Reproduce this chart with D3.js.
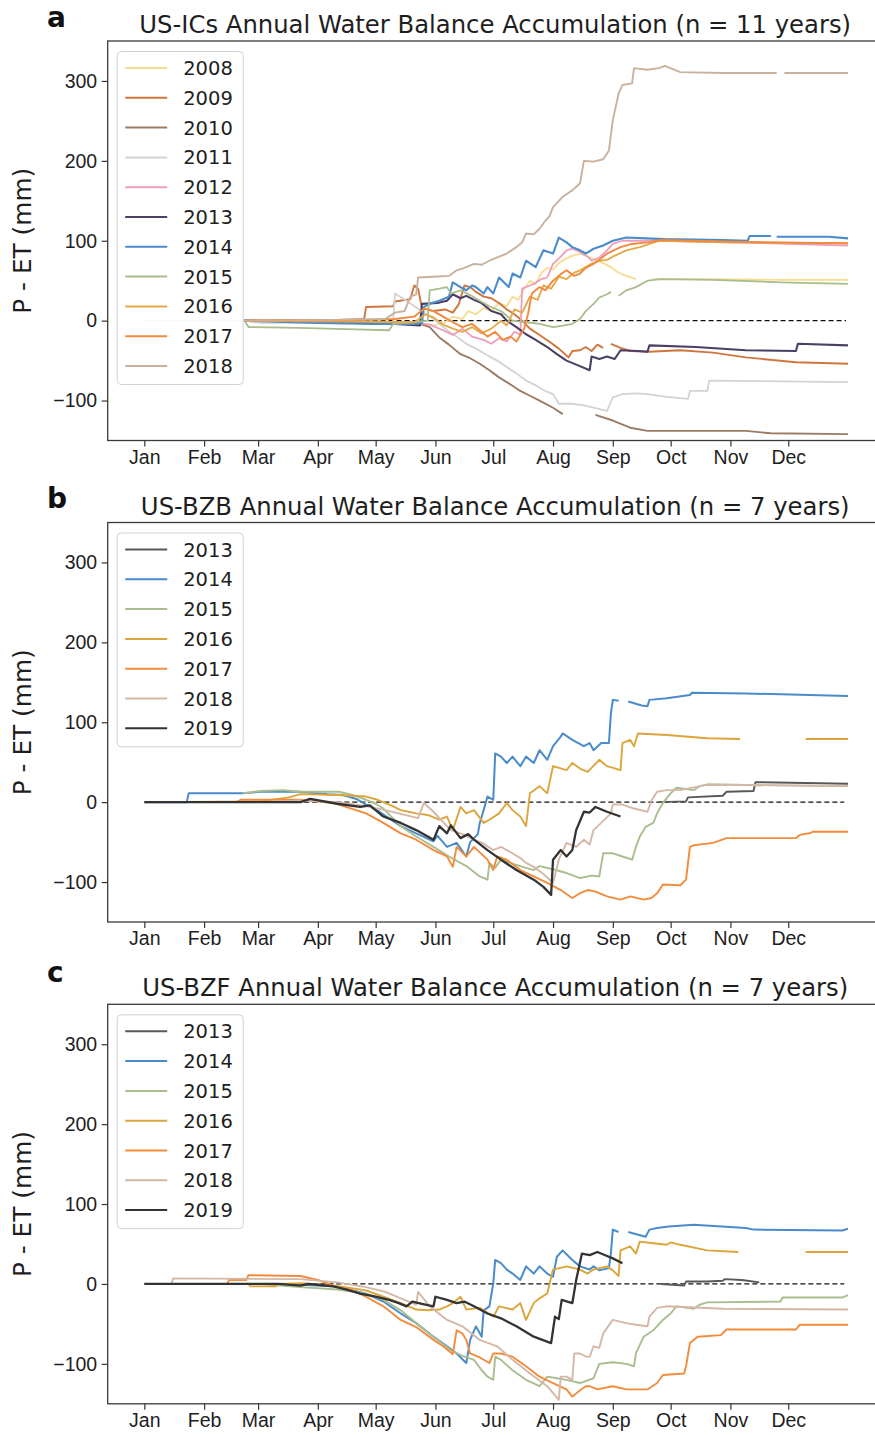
<!DOCTYPE html>
<html>
<head>
<meta charset="utf-8">
<script src="https://cdn.jsdelivr.net/npm/d3@7"></script>
<style>
  html, body { margin: 0; padding: 0; background: #fff; }
  svg { display: block; font-family: "DejaVu Sans", "Liberation Sans", sans-serif; }
</style>
</head>
<body>
<svg id="fig" width="875" height="1435"></svg>
<script>
// ---- axis ticks -------------------------------------------------------
const monthStarts = [0, 31, 59, 90, 120, 151, 181, 212, 243, 273, 304, 334];
const monthLabels = ["Jan","Feb","Mar","Apr","May","Jun","Jul","Aug","Sep","Oct","Nov","Dec"];
const yTicks = [-100, 0, 100, 200, 300];

// ---- US-ICs: cumulative P - ET (mm) by day of year; null = missing -----
const icsYears = ["2008","2009","2010","2011","2012","2013","2014","2015","2016","2017","2018"];
const ics2008 = [[52,0],[90,-1],[120,-2],[140,-3],[150,-6],[156,-2],[160,5],[165,2],[168,12],[172,8],[176,16],[180,12],[184,22],[188,18],[191,30],[194,26],[197,40],[200,50],[203,46],[206,60],[209,66],[212,64],[215,72],[219,78],[223,82],[226,84],[230,80],[234,76],[238,72],[242,67],[246,60],[250,56],[255,52],[256,null],[264,52],[290,52],[330,51],[365,51]];
const ics2009 = [[52,0],[70,1],[100,1],[114,2],[115,17],[129,18],[130,24],[138,27],[140,44],[142,40],[144,16],[150,12],[156,14],[160,10],[163,20],[166,44],[169,42],[172,36],[176,30],[180,28],[184,22],[188,14],[192,8],[196,0],[200,-10],[205,-18],[210,-26],[215,-35],[220,-46],[222,-38],[226,-37],[229,-33],[232,-38],[235,-30],[238,-34],[239,null],[242,-29],[247,-34],[252,-38],[262,-39],[278,-37],[295,-40],[312,-46],[338,-52],[365,-54]];
const ics2010 = [[52,0],[60,-2],[100,-2],[140,-3],[143,-4],[148,-8],[153,-21],[158,-30],[164,-42],[169,-47],[174,-54],[179,-62],[184,-71],[190,-80],[195,-88],[200,-94],[205,-100],[212,-109],[217,-117],[218,null],[234,-118],[243,-125],[252,-134],[261,-138],[312,-138],[325,-141],[365,-142]];
const ics2011 = [[0,0],[52,0],[60,-2],[100,-2],[129,-3],[130,34],[134,28],[139,20],[145,10],[150,2],[156,-10],[162,-20],[167,-29],[172,-35],[177,-42],[183,-50],[188,-58],[193,-66],[198,-75],[203,-81],[208,-88],[212,-92],[215,-104],[222,-104],[228,-106],[233,-109],[240,-113],[243,-96],[248,-92],[255,-91],[261,-92],[270,-95],[282,-98],[283,-88],[292,-88],[293,-75],[330,-76],[365,-77]];
const ics2012 = [[52,0],[100,-1],[140,-2],[148,-5],[155,-12],[160,-18],[165,-10],[170,-20],[176,-24],[180,-29],[184,-22],[188,-26],[192,-14],[195,-18],[196,40],[200,44],[202,46],[206,52],[209,54],[212,71],[216,80],[219,88],[222,90],[226,86],[230,80],[232,75],[236,79],[240,88],[243,96],[248,100],[270,100],[320,97],[365,94]];
const ics2013 = [[52,0],[80,-1],[110,-3],[130,-4],[143,-6],[144,21],[152,22],[157,25],[160,33],[164,28],[167,31],[171,26],[175,22],[180,12],[185,8],[188,0],[193,-8],[198,-17],[203,-24],[209,-33],[214,-42],[219,-50],[225,-56],[231,-62],[232,-45],[236,-48],[240,-45],[244,-48],[247,-37],[256,-38],[261,-39],[262,-31],[286,-33],[312,-37],[338,-38],[339,-29],[365,-31]];
const ics2014 = [[52,0],[90,-3],[120,-4],[140,-4],[144,-3],[145,17],[148,21],[153,25],[158,30],[160,48],[164,42],[167,38],[170,44],[172,42],[176,34],[178,42],[181,34],[184,54],[189,42],[191,59],[195,54],[198,75],[203,67],[207,88],[212,84],[215,104],[219,98],[222,92],[226,88],[229,84],[233,90],[238,94],[243,100],[250,104],[270,102],[300,101],[313,100],[314,106],[325,106],[326,null],[328,105],[355,105],[365,103]];
const ics2015 = [[52,0],[54,-8],[80,-9],[110,-11],[126,-12],[127,-12],[129,-4],[140,-2],[147,0],[148,38],[153,40],[157,42],[159,34],[164,38],[169,32],[174,25],[179,18],[185,12],[191,0],[198,-2],[205,-4],[212,-8],[218,-6],[222,-4],[226,2],[229,12],[233,21],[236,29],[240,33],[242,36],[243,null],[246,31],[250,38],[255,42],[261,50],[268,52],[295,51],[330,48],[365,46]];
const ics2016 = [[52,0],[100,-1],[140,-2],[146,8],[150,4],[155,-5],[160,-10],[165,-14],[170,-8],[175,-16],[180,-10],[185,0],[188,-6],[192,14],[196,10],[200,30],[204,26],[207,44],[211,40],[215,55],[219,52],[223,60],[226,63],[231,70],[236,75],[240,76],[243,80],[250,88],[257,92],[267,100],[300,98],[365,97]];
const ics2017 = [[52,0],[100,0],[130,2],[140,5],[145,15],[150,12],[155,5],[160,-2],[165,-8],[170,-4],[175,-14],[178,-20],[182,-14],[186,-24],[190,-20],[193,-26],[197,-10],[199,8],[201,34],[205,42],[208,38],[212,50],[216,58],[219,63],[223,56],[226,59],[229,66],[233,71],[237,78],[240,84],[247,92],[253,96],[261,98],[268,101],[300,99],[365,96.5]];
const ics2018 = [[52,0],[100,1],[125,2],[130,10],[135,12],[138,30],[141,33],[142,54],[150,55],[158,56],[162,63],[166,66],[171,71],[175,70],[179,75],[184,80],[188,84],[193,92],[196,98],[198,109],[202,108],[205,115],[208,125],[210,130],[212,142],[217,155],[222,163],[226,172],[228,200],[233,199],[238,202],[241,213],[243,251],[246,284],[248,295],[253,297],[254,316],[261,314],[267,316],[270,319],[278,311],[300,310],[328,310],[329,null],[332,310],[365,310]];

// ---- US-BZB ------------------------------------------------------------
const bzbYears = ["2013","2014","2015","2016","2017","2018","2019"];
const bzb2013 = [[267,0],[281,1],[282,6],[300,8],[302,13],[316,14],[317,25],[365,23]];
const bzb2014 = [[0,0],[22,0],[23,11],[51,11],[60,13],[81,13],[95,10],[103,9],[110,4],[115,-3],[122,-12],[128,-22],[133,-30],[141,-39],[148,-47],[150,-49],[152,-42],[157,-56],[162,-51],[167,-68],[169,-50],[173,-40],[174,-26],[176,-10],[178,7],[181,3],[182,61],[185,57],[188,49],[191,57],[195,45],[198,57],[202,49],[205,65],[209,53],[212,70],[216,82],[217,86],[222,78],[228,70],[231,74],[233,65],[237,74],[241,74],[242,111],[243,128],[246,127],[247,null],[251,126],[258,121],[261,120],[262,128],[271,130],[283,134],[284,137],[312,136],[365,133]];
const bzb2015 = [[51,11],[60,14],[72,15],[81,13],[101,13],[108,9],[115,3],[120,-2],[124,-8],[128,-18],[133,-30],[141,-43],[150,-56],[158,-68],[167,-80],[174,-93],[178,-97],[179,-76],[182,-82],[185,-72],[188,-74],[192,-78],[195,-80],[202,-85],[205,-80],[212,-84],[218,-88],[226,-95],[232,-92],[236,-93],[238,-64],[243,-64],[248,-68],[253,-72],[255,-56],[257,-43],[260,-31],[264,-26],[266,-14],[269,-1],[273,11],[276,18],[285,15],[288,20],[292,22],[330,21],[365,20]];
const bzb2016 = [[0,0],[60,1],[75,6],[81,10],[100,9],[115,7],[121,3],[128,-4],[133,-10],[141,-14],[147,-16],[153,-22],[157,-18],[160,-35],[164,-6],[167,-14],[171,-10],[176,-26],[179,-22],[184,-14],[188,-1],[191,-10],[195,-18],[198,-30],[200,11],[205,20],[209,11],[212,45],[219,40],[222,49],[226,42],[230,38],[236,53],[240,45],[247,40],[248,74],[252,78],[254,70],[256,86],[271,84],[292,80],[309,79],[310,null],[343,79],[365,79]];
const bzb2017 = [[0,0],[48,0],[50,3],[81,3],[98,-1],[115,-14],[124,-26],[133,-39],[141,-47],[150,-60],[157,-68],[160,-81],[162,-56],[167,-68],[171,-56],[178,-72],[181,-85],[183,-68],[188,-72],[195,-85],[202,-93],[209,-101],[216,-110],[222,-120],[226,-114],[230,-110],[234,-112],[240,-118],[247,-122],[252,-118],[259,-122],[263,-120],[266,-114],[269,-103],[278,-104],[281,-97],[283,-56],[285,-54],[295,-51],[302,-45],[338,-45],[340,-41],[345,-39],[347,-37],[365,-37]];
const bzb2018 = [[0,0],[60,0],[81,2],[100,0],[115,-5],[125,-10],[135,-16],[142,-20],[145,-1],[150,-12],[155,-25],[159,-35],[165,-40],[171,-47],[176,-52],[181,-60],[185,-56],[191,-64],[195,-70],[198,-76],[202,-81],[207,-90],[212,-101],[215,-72],[219,-51],[224,-56],[228,-47],[231,-53],[233,-35],[237,-26],[242,-14],[243,-3],[248,-3],[254,-8],[261,-12],[263,2],[266,13],[271,15],[278,15],[292,22],[330,21],[365,20]];
const bzb2019 = [[0,0],[60,0],[81,0],[86,4],[100,-2],[112,-6],[117,-4],[124,-18],[133,-26],[141,-35],[150,-47],[153,-30],[157,-39],[159,-29],[164,-45],[168,-40],[171,-47],[178,-60],[185,-72],[193,-85],[202,-97],[207,-106],[211,-116],[212,-72],[216,-60],[219,-68],[222,-60],[224,-35],[228,-12],[231,-13],[234,-6],[240,-12],[247,-18]];

// ---- US-BZF ------------------------------------------------------------
const bzfYears = ["2013","2014","2015","2016","2017","2018","2019"];
const bzf2013 = [[268,0],[280,-2],[281,3],[292,3],[300,4],[301,6],[310,5],[319,2]];
const bzf2014 = [[0,0],[70,0],[81,-1],[98,-3],[115,-12],[124,-22],[133,-37],[141,-49],[150,-66],[157,-78],[162,-87],[167,-99],[169,-70],[172,-53],[175,-66],[176,-33],[179,-28],[181,1],[182,30],[185,26],[188,18],[191,13],[195,5],[198,22],[202,13],[205,22],[209,13],[212,9],[214,34],[217,42],[222,30],[226,22],[231,18],[233,22],[236,17],[241,20],[242,38],[243,68],[246,65],[247,null],[251,65],[260,59],[262,68],[266,70],[272,72],[285,74],[312,70],[316,68],[362,67],[365,69]];
const bzf2015 = [[0,0],[60,0],[81,-4],[100,-7],[115,-12],[124,-20],[133,-33],[141,-49],[150,-66],[159,-83],[165,-90],[171,-95],[175,-108],[178,-116],[181,-120],[182,-91],[185,-95],[191,-108],[198,-120],[205,-128],[209,-116],[214,-118],[219,-120],[226,-124],[233,-118],[236,-100],[243,-98],[250,-100],[254,-103],[255,-87],[259,-66],[264,-58],[269,-45],[273,-37],[276,-28],[285,-31],[288,-26],[292,-23],[330,-22],[331,-17],[362,-17],[365,-14]];
const bzf2016 = [[0,0],[54,0],[55,-3],[68,-3],[70,0],[81,1],[98,-2],[115,-8],[124,-16],[133,-24],[141,-32],[147,-33],[153,-32],[157,-28],[160,-24],[164,-16],[167,-32],[174,-30],[178,-36],[181,-41],[184,-28],[191,-32],[195,-24],[198,-45],[202,-24],[205,-18],[209,-12],[212,18],[219,22],[226,18],[230,13],[233,18],[240,22],[243,17],[246,10],[247,42],[252,47],[255,38],[257,53],[264,51],[271,49],[273,52],[278,49],[292,42],[308,40],[309,null],[343,40],[365,40]];
const bzf2017 = [[0,0],[43,0],[44,5],[53,5],[54,11],[81,10],[90,5],[98,-2],[108,-8],[115,-16],[124,-28],[133,-45],[141,-54],[150,-70],[155,-78],[160,-88],[162,-58],[165,-62],[167,-70],[169,-87],[174,-92],[179,-99],[181,-87],[185,-87],[191,-91],[198,-103],[205,-116],[212,-124],[219,-132],[222,-141],[226,-133],[229,-128],[231,-128],[235,-132],[243,-128],[250,-132],[261,-132],[266,-124],[269,-114],[280,-112],[281,-103],[283,-74],[287,-66],[299,-64],[302,-57],[338,-57],[340,-51],[365,-51]];
const bzf2018 = [[0,0],[14,0],[15,7],[81,6],[100,2],[115,-4],[125,-10],[135,-20],[141,-26],[142,-10],[148,-28],[157,-45],[165,-53],[174,-70],[183,-78],[191,-95],[200,-112],[209,-128],[215,-145],[216,-116],[219,-116],[222,-120],[223,-87],[226,-87],[229,-91],[231,-91],[233,-78],[236,-80],[238,-62],[240,-55],[243,-45],[250,-49],[255,-51],[261,-53],[262,-41],[266,-30],[271,-28],[300,-31],[365,-32]];
const bzf2019 = [[0,0],[70,0],[81,-2],[85,0],[90,-1],[98,-3],[105,-7],[112,-12],[120,-16],[127,-20],[132,-24],[136,-28],[139,-22],[144,-25],[150,-28],[151,-16],[157,-20],[162,-24],[166,-22],[171,-28],[178,-37],[185,-43],[193,-53],[202,-66],[211,-74],[213,-41],[215,-44],[216.5,-20],[222,-24],[224,5],[227,38],[231,36],[235,40],[240,35],[243,32],[248,26]];

// ---- styling -----------------------------------------------------------
const icsColors = ["#f6dc8e","#d0763c","#9c7b63","#d3d3d3","#ee9dbd","#4b3f66","#4a8bca","#a8bc8c","#e2aa4a","#f08a3e","#c8b19d"];
const bzColors  = ["#585858","#4a8bca","#a9be8f","#dba53b","#f28c3c","#d5b7a7","#333333"];
const bzWidths  = [1.9, 2.0, 1.9, 1.9, 1.9, 1.9, 2.3];
const icsWidths = [1.8, 1.9, 1.9, 1.8, 1.8, 2.1, 2.1, 1.8, 1.9, 1.9, 1.9];

const panels = [
  { letter: "a", letterY: 27, top: 41,
    title: "US-ICs Annual Water Balance Accumulation (n = 11 years)",
    years: icsYears, colors: icsColors, widths: icsWidths,
    series: [ics2008, ics2009, ics2010, ics2011, ics2012, ics2013, ics2014, ics2015, ics2016, ics2017, ics2018],
    zero: [{ from: 0, to: 52, color: "#d9cccc" }, { from: 52, to: 364, color: "#111" }] },
  { letter: "b", letterY: 508, top: 522.5,
    title: "US-BZB Annual Water Balance Accumulation (n = 7 years)",
    years: bzbYears, colors: bzColors, widths: bzWidths,
    series: [bzb2013, bzb2014, bzb2015, bzb2016, bzb2017, bzb2018, bzb2019],
    zero: [{ from: 0, to: 363, color: "#111" }] },
  { letter: "c", letterY: 982, top: 1004.3,
    title: "US-BZF Annual Water Balance Accumulation (n = 7 years)",
    years: bzfYears, colors: bzColors, widths: bzWidths,
    series: [bzf2013, bzf2014, bzf2015, bzf2016, bzf2017, bzf2018, bzf2019],
    zero: [{ from: 0, to: 363, color: "#111" }] }
];

const H = 399.5;
const left = 107.7, right = 882.7;
const x = d3.scaleLinear().domain([-19, 383]).range([left, right]);
const svg = d3.select("#fig");
const minus = v => (v < 0 ? "\u2212" + Math.abs(v) : String(v));

panels.forEach(p => {
  const top = p.top, bottom = top + H;
  const y = d3.scaleLinear().domain([-150, 350]).range([bottom, top]);
  const g = svg.append("g");

  const clipId = "clip-" + p.letter;
  g.append("clipPath").attr("id", clipId)
    .append("rect").attr("x", left).attr("y", top).attr("width", right - left).attr("height", H);

  const plot = g.append("g").attr("clip-path", `url(#${clipId})`);

  // zero reference
  p.zero.forEach(z => {
    plot.append("line")
      .attr("x1", x(z.from)).attr("x2", x(z.to))
      .attr("y1", y(0)).attr("y2", y(0))
      .attr("stroke", z.color).attr("stroke-width", 1.3)
      .attr("stroke-dasharray", "5,3");
  });

  const line = d3.line()
    .defined(d => d[1] !== null)
    .x(d => x(d[0]))
    .y(d => y(d[1]));

  p.series.forEach((s, k) => {
    plot.append("path")
      .datum(s)
      .attr("d", line)
      .attr("fill", "none")
      .attr("stroke", p.colors[k])
      .attr("stroke-width", p.widths[k])
      .attr("stroke-linejoin", "round")
      .attr("stroke-linecap", "butt");
  });

  // axes
  const yAxis = d3.axisLeft(y).tickValues(yTicks).tickSize(6).tickPadding(4.5).tickFormat(minus);
  const xAxis = d3.axisBottom(x).tickValues(monthStarts).tickSize(6).tickPadding(3.5)
    .tickFormat((d, j) => monthLabels[j]);

  const ya = g.append("g").attr("transform", `translate(${left},0)`).call(yAxis);
  const xa = g.append("g").attr("transform", `translate(0,${bottom})`).call(xAxis);
  [ya, xa].forEach(a => {
    a.select(".domain").remove();
    a.selectAll(".tick line").attr("stroke", "#333").attr("stroke-width", 1.2);
    a.selectAll(".tick text").attr("fill", "#1e1e1e").style("font-size", "19.5px");
  });

  // frame
  g.append("rect")
    .attr("x", left).attr("y", top).attr("width", right - left).attr("height", H)
    .attr("fill", "none").attr("stroke", "#3a3a3a").attr("stroke-width", 1.3);

  // legend
  const lg = g.append("g").attr("transform", `translate(${left + 9.5},${top + 10.5})`);
  const step = 29.8;
  lg.append("rect")
    .attr("width", 126).attr("height", (p.years.length - 1) * step + 35)
    .attr("rx", 4).attr("ry", 4)
    .attr("fill", "#fff").attr("fill-opacity", 0.85)
    .attr("stroke", "#d2d2d2").attr("stroke-width", 1);
  p.years.forEach((yr, k) => {
    const cy = 16.5 + k * step;
    lg.append("line").attr("x1", 8).attr("x2", 50).attr("y1", cy).attr("y2", cy)
      .attr("stroke", p.colors[k]).attr("stroke-width", 2);
    lg.append("text").attr("x", 66).attr("y", cy).attr("dy", "0.36em")
      .attr("fill", "#1e1e1e").style("font-size", "19.5px").text(yr);
  });

  // title, panel letter, y label
  svg.append("text")
    .attr("x", (left + right) / 2).attr("y", top - 8)
    .attr("text-anchor", "middle").attr("fill", "#1e1e1e")
    .style("font-size", "24.3px").text(p.title);
  svg.append("text")
    .attr("x", 47).attr("y", p.letterY)
    .attr("fill", "#111").style("font-size", "28px").style("font-weight", "bold")
    .text(p.letter);
  svg.append("text")
    .attr("transform", `translate(31,${top + H / 2}) rotate(-90)`)
    .attr("text-anchor", "middle").attr("fill", "#1e1e1e")
    .style("font-size", "24.8px").text("P - ET (mm)");
});
</script>
</body>
</html>
